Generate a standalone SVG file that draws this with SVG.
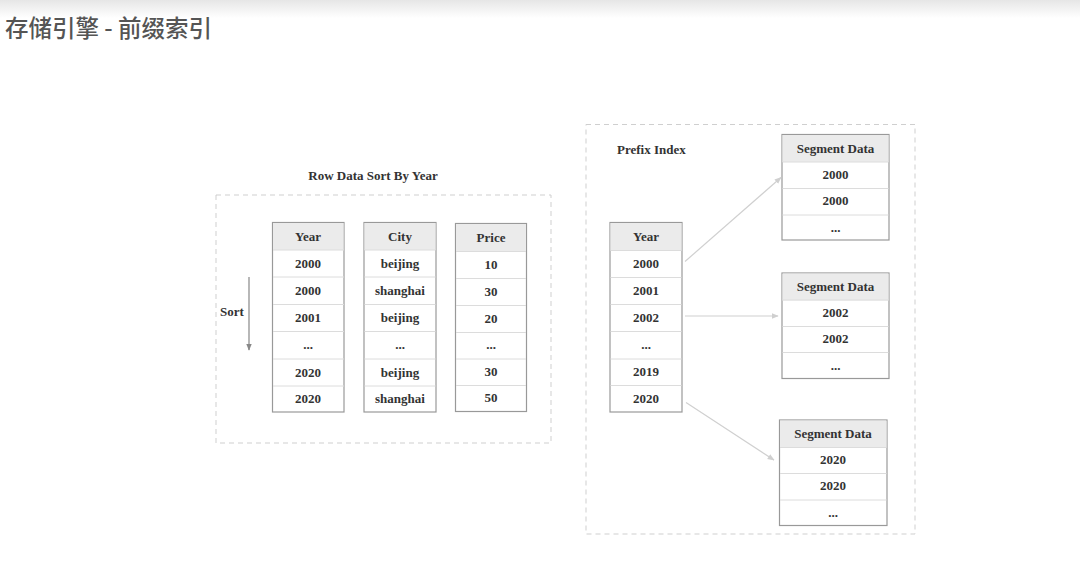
<svg xmlns="http://www.w3.org/2000/svg" width="1080" height="572" viewBox="0 0 1080 572">
<defs>
<linearGradient id="topg" x1="0" y1="0" x2="0" y2="1">
<stop offset="0" stop-color="#e6e6e6"/>
<stop offset="1" stop-color="#ffffff"/>
</linearGradient>
<marker id="arr" viewBox="0 0 10 10" refX="9" refY="5" markerWidth="7" markerHeight="7" orient="auto" markerUnits="userSpaceOnUse">
<path d="M0,1 L10,5 L0,9 z" fill="#cfcfcf"/>
</marker>
<marker id="arrS" viewBox="0 0 10 10" refX="9" refY="5" markerWidth="7" markerHeight="8" orient="auto" markerUnits="userSpaceOnUse">
<path d="M0,1 L10,5 L0,9 z" fill="#888"/>
</marker>
</defs>
<style>
.t{font-family:"Liberation Serif",serif;font-weight:bold;font-size:13px;fill:#333;text-anchor:middle}
.lbl{font-family:"Liberation Serif",serif;font-weight:bold;font-size:13px;fill:#333}
.box{fill:#fff;stroke:#999;stroke-width:1.2}
.hd{fill:#ebebeb}
.sep{stroke:#dcdcdc;stroke-width:1}
.dash{fill:none;stroke:#cfcfcf;stroke-width:1;stroke-dasharray:5,4}
.con{stroke:#d0d0d0;stroke-width:1.2;fill:none}
</style>
<rect x="0" y="0" width="1080" height="18" fill="url(#topg)"/>
<text x="5" y="37" font-family="'Noto Sans CJK SC',sans-serif" font-size="23.5" font-weight="500" fill="#555">存储引擎 - 前缀索引</text>

<g id="left-group">
<rect class="dash" x="216" y="195" width="335" height="248"/>
<text class="t" x="373" y="180">Row Data Sort By Year</text>
<text class="lbl" x="220" y="316">Sort</text>
<line x1="249" y1="277" x2="249" y2="350" stroke="#888" stroke-width="1.2" marker-end="url(#arrS)"/>
</g>

<g id="year-table">
<rect class="box" x="272.5" y="222.5" width="71.5" height="189.5"/>
<rect class="hd" x="273" y="223" width="70.5" height="27"/>
<line class="sep" x1="273" y1="250" x2="344" y2="250"/>
<line class="sep" x1="273" y1="277" x2="344" y2="277"/>
<line class="sep" x1="273" y1="304.5" x2="344" y2="304.5"/>
<line class="sep" x1="273" y1="331.5" x2="344" y2="331.5"/>
<line class="sep" x1="273" y1="359" x2="344" y2="359"/>
<line class="sep" x1="273" y1="386" x2="344" y2="386"/>
<text class="t" x="308" y="241">Year</text>
<text class="t" x="308" y="268">2000</text>
<text class="t" x="308" y="295">2000</text>
<text class="t" x="308" y="322">2001</text>
<text class="t" x="308" y="349">...</text>
<text class="t" x="308" y="377">2020</text>
<text class="t" x="308" y="403">2020</text>
</g>

<g id="city-table">
<rect class="box" x="364" y="222.5" width="72" height="189.5"/>
<rect class="hd" x="364.5" y="223" width="71" height="27"/>
<line class="sep" x1="364.5" y1="250" x2="435.5" y2="250"/>
<line class="sep" x1="364.5" y1="277" x2="435.5" y2="277"/>
<line class="sep" x1="364.5" y1="304.5" x2="435.5" y2="304.5"/>
<line class="sep" x1="364.5" y1="331.5" x2="435.5" y2="331.5"/>
<line class="sep" x1="364.5" y1="359" x2="435.5" y2="359"/>
<line class="sep" x1="364.5" y1="386" x2="435.5" y2="386"/>
<text class="t" x="400" y="241">City</text>
<text class="t" x="400" y="268">beijing</text>
<text class="t" x="400" y="295">shanghai</text>
<text class="t" x="400" y="322">beijing</text>
<text class="t" x="400" y="349">...</text>
<text class="t" x="400" y="377">beijing</text>
<text class="t" x="400" y="403">shanghai</text>
</g>

<g id="price-table">
<rect class="box" x="455.5" y="223.5" width="71" height="188"/>
<rect class="hd" x="456" y="224" width="70" height="27.5"/>
<line class="sep" x1="456" y1="251.5" x2="526" y2="251.5"/>
<line class="sep" x1="456" y1="278.5" x2="526" y2="278.5"/>
<line class="sep" x1="456" y1="305.5" x2="526" y2="305.5"/>
<line class="sep" x1="456" y1="332.5" x2="526" y2="332.5"/>
<line class="sep" x1="456" y1="359" x2="526" y2="359"/>
<line class="sep" x1="456" y1="385.5" x2="526" y2="385.5"/>
<text class="t" x="491" y="242">Price</text>
<text class="t" x="491" y="269">10</text>
<text class="t" x="491" y="296">30</text>
<text class="t" x="491" y="323">20</text>
<text class="t" x="491" y="349">...</text>
<text class="t" x="491" y="376">30</text>
<text class="t" x="491" y="402">50</text>
</g>

<g id="right-group">
<rect class="dash" x="586" y="124.5" width="329" height="409.5"/>
<text class="lbl" x="617" y="154">Prefix Index</text>
</g>

<g id="index-table">
<rect class="box" x="610" y="222.5" width="72" height="189.5"/>
<rect class="hd" x="610.5" y="223" width="71" height="27.5"/>
<line class="sep" x1="610.5" y1="250.5" x2="681.5" y2="250.5"/>
<line class="sep" x1="610.5" y1="277.5" x2="681.5" y2="277.5"/>
<line class="sep" x1="610.5" y1="304.5" x2="681.5" y2="304.5"/>
<line class="sep" x1="610.5" y1="331.5" x2="681.5" y2="331.5"/>
<line class="sep" x1="610.5" y1="359" x2="681.5" y2="359"/>
<line class="sep" x1="610.5" y1="385.5" x2="681.5" y2="385.5"/>
<text class="t" x="646" y="241">Year</text>
<text class="t" x="646" y="268">2000</text>
<text class="t" x="646" y="295">2001</text>
<text class="t" x="646" y="322">2002</text>
<text class="t" x="646" y="349">...</text>
<text class="t" x="646" y="376">2019</text>
<text class="t" x="646" y="403">2020</text>
</g>

<g id="segment-1">
<rect class="box" x="782" y="134.5" width="107" height="105.5"/>
<rect class="hd" x="782.5" y="135" width="106" height="27"/>
<line class="sep" x1="782.5" y1="162" x2="888.5" y2="162"/>
<line class="sep" x1="782.5" y1="188.5" x2="888.5" y2="188.5"/>
<line class="sep" x1="782.5" y1="215" x2="888.5" y2="215"/>
<text class="t" x="835.5" y="153">Segment Data</text>
<text class="t" x="835.5" y="179">2000</text>
<text class="t" x="835.5" y="205">2000</text>
<text class="t" x="835.5" y="232">...</text>
</g>

<g id="segment-2">
<rect class="box" x="782" y="273" width="107" height="105.5"/>
<rect class="hd" x="782.5" y="273.5" width="106" height="27"/>
<line class="sep" x1="782.5" y1="300" x2="888.5" y2="300"/>
<line class="sep" x1="782.5" y1="326.5" x2="888.5" y2="326.5"/>
<line class="sep" x1="782.5" y1="352.5" x2="888.5" y2="352.5"/>
<text class="t" x="835.5" y="291">Segment Data</text>
<text class="t" x="835.5" y="317">2002</text>
<text class="t" x="835.5" y="343">2002</text>
<text class="t" x="835.5" y="370">...</text>
</g>

<g id="segment-3">
<rect class="box" x="779.5" y="420" width="107.5" height="105.5"/>
<rect class="hd" x="780" y="420.5" width="106.5" height="27"/>
<line class="sep" x1="780" y1="447.5" x2="886.5" y2="447.5"/>
<line class="sep" x1="780" y1="473.5" x2="886.5" y2="473.5"/>
<line class="sep" x1="780" y1="500" x2="886.5" y2="500"/>
<text class="t" x="833" y="438">Segment Data</text>
<text class="t" x="833" y="464">2020</text>
<text class="t" x="833" y="490">2020</text>
<text class="t" x="833" y="517">...</text>
</g>

<g id="connectors">
<line class="con" x1="685" y1="261.5" x2="781" y2="177.5" marker-end="url(#arr)"/>
<line class="con" x1="685" y1="316" x2="778" y2="316" marker-end="url(#arr)"/>
<line class="con" x1="686" y1="402.5" x2="774" y2="460" marker-end="url(#arr)"/>
</g>
</svg>
